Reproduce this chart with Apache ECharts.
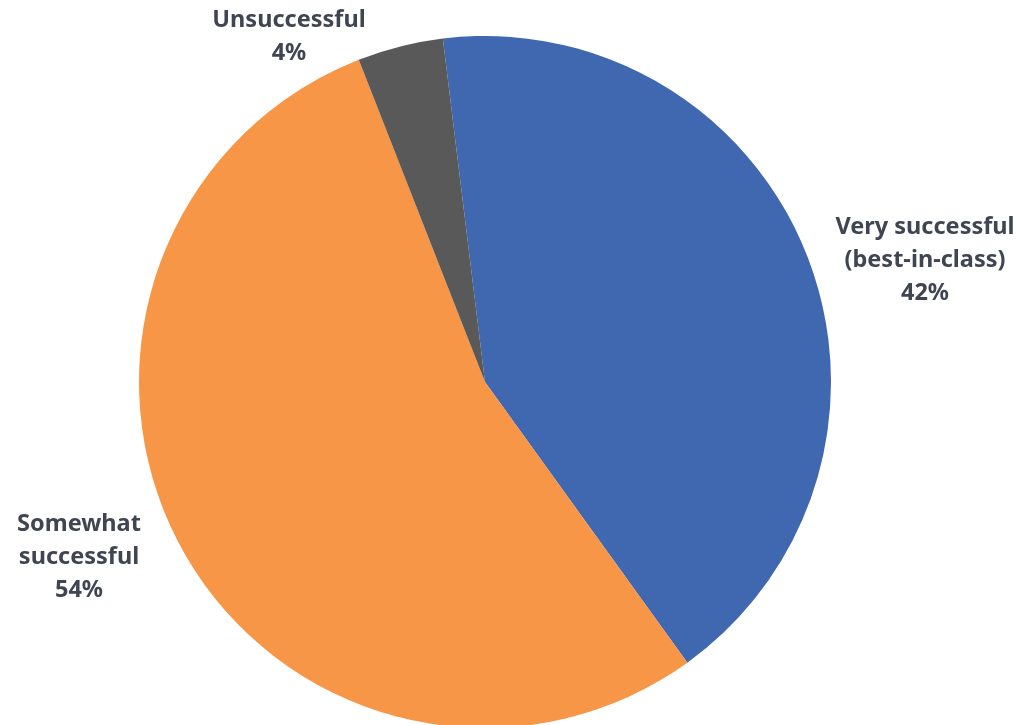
<!DOCTYPE html>
<html>
<head>
<meta charset="utf-8">
<style>
  html, body { margin: 0; padding: 0; background: #fff; }
  #chart { width: 1017px; height: 725px; }
</style>
<script src="https://cdn.jsdelivr.net/npm/echarts@6/dist/echarts.min.js"></script>
</head>
<body>
<div id="chart"></div>
<script>
// data
const categories = ['Very successful\n(best-in-class)', 'Somewhat\nsuccessful', 'Unsuccessful']
const shares = [42, 54, 4]
const sliceColors = ['#4068b0', '#f79646', '#595959']
// where each label block sits (centre of the text)
const labelSpots = [[925, 260], [79, 557], [289, 37]]

const chart = echarts.init(document.getElementById('chart'))

const seriesData = categories.map((name, i) => {
  return {
    name: name,
    value: shares[i],
    itemStyle: { color: sliceColors[i] }
  }
})

chart.setOption({
  animation: false,
  series: [
    {
      type: 'pie',
      center: [485, 382],
      radius: 346,
      startAngle: 97,
      clockwise: true,
      data: seriesData,
      itemStyle: { borderWidth: 0 },
      label: {
        show: true,
        position: 'outside',
        overflow: 'none',
        edgeDistance: 0,
        formatter: p => p.name + '\n' + p.value + '%',
        fontFamily: '"Noto Sans", sans-serif',
        fontWeight: 'bold',
        fontSize: 23.5,
        lineHeight: 33,
        color: '#404552',
        align: 'center'
      },
      labelLine: { show: false },
      labelLayout: params => {
        const spot = labelSpots[params.dataIndex]
        return {
          x: spot[0],
          y: spot[1],
          align: 'center',
          verticalAlign: 'middle'
        }
      }
    }
  ]
})
</script>
</body>
</html>
